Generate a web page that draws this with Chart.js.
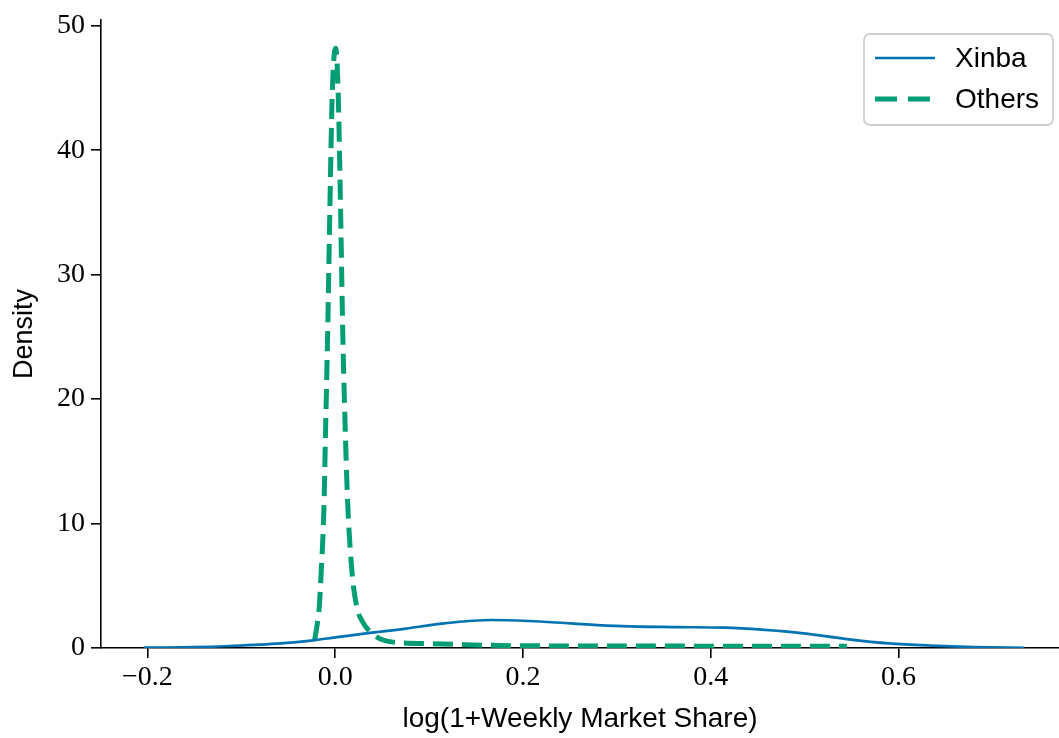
<!DOCTYPE html>
<html>
<head>
<meta charset="utf-8">
<script src="https://cdn.jsdelivr.net/npm/chart.js@4.4.1/dist/chart.umd.min.js"></script>
<style>
  html, body { margin: 0; padding: 0; background: #ffffff; }
  #wrap { width: 1059px; height: 738px; }
</style>
</head>
<body>
<div id="wrap"><canvas id="c" width="1059" height="738"></canvas></div>
<script>
// ---- data ----
const seriesNames = ["Xinba", "Others"];

const xinbaX = [-0.204, -0.15, -0.112, -0.058, -0.023, 0.0, 0.039, 0.07, 0.116, 0.167, 0.206, 0.251, 0.305, 0.364, 0.414, 0.454, 0.499, 0.545, 0.59, 0.635, 0.68, 0.734];
const xinbaY = [0.03, 0.07, 0.16, 0.37, 0.62, 0.85, 1.23, 1.5, 1.98, 2.25, 2.17, 1.98, 1.76, 1.68, 1.63, 1.47, 1.18, 0.72, 0.37, 0.19, 0.08, 0.02];

const othersX = [-0.022, -0.019, -0.017, -0.015, -0.012, -0.0105, -0.008, -0.006, -0.0046, -0.003, 0.0005, 0.003, 0.0046, 0.006, 0.008, 0.011, 0.0135, 0.018, 0.023, 0.030, 0.039, 0.051, 0.069, 0.1, 0.125, 0.16, 0.2, 0.3, 0.4, 0.5, 0.545];
const othersY = [0.6, 2.0, 3.3, 6.0, 11.3, 16.7, 25.5, 34.0, 39.7, 45.0, 48.2, 45.0, 39.7, 34.0, 25.5, 16.7, 11.3, 6.0, 3.3, 2.0, 1.18, 0.64, 0.42, 0.35, 0.30, 0.22, 0.18, 0.16, 0.15, 0.15, 0.15];

const xTicks = [-0.2, 0.0, 0.2, 0.4, 0.6];
const yTicks = [0, 10, 20, 30, 40, 50];
const xLabel = "log(1+Weekly Market Share)";
const yLabel = "Density";

// ---- chart ----
const toPts = (xs, ys) => xs.map((x, i) => ({ x: x, y: ys[i] }));

const fmtX = v => {
  const s = Math.abs(v).toFixed(1);
  return (v < -1e-9 ? "\u2212" : "") + s;
};

const SANS = '"Liberation Sans", Arial, sans-serif';
const SERIF = '"Liberation Serif", "Times New Roman", serif';

const legendPlugin = {
  id: 'boxLegend',
  afterDatasetsDraw(chart) {
    const ctx = chart.ctx;
    const ca = chart.chartArea;
    const w = 189, h = 91;
    const x0 = ca.right - 6 - w, y0 = ca.top + 14;
    ctx.save();
    ctx.beginPath();
    if (ctx.roundRect) ctx.roundRect(x0, y0, w, h, 6); else ctx.rect(x0, y0, w, h);
    ctx.fillStyle = 'rgba(255,255,255,0.85)';
    ctx.fill();
    ctx.lineWidth = 1.8;
    ctx.strokeStyle = '#d0d0d0';
    ctx.stroke();
    chart.data.datasets.forEach((ds, i) => {
      const cy = y0 + 24 + i * 41;
      ctx.beginPath();
      ctx.setLineDash(ds.borderDash ? [22, 11] : []);
      ctx.lineDashOffset = 0;
      ctx.lineWidth = ds.borderWidth;
      ctx.strokeStyle = ds.borderColor;
      ctx.lineCap = 'butt';
      ctx.moveTo(x0 + 11, cy);
      ctx.lineTo(x0 + 71, cy);
      ctx.stroke();
      ctx.setLineDash([]);
      ctx.fillStyle = '#000';
      ctx.font = '28px ' + SANS;
      ctx.textBaseline = 'middle';
      ctx.textAlign = 'left';
      ctx.fillText(ds.label, x0 + 91, cy + 1);
    });
    ctx.restore();
  }
};

new Chart(document.getElementById('c'), {
  type: 'line',
  data: {
    datasets: [
      {
        label: seriesNames[0],
        data: toPts(xinbaX, xinbaY),
        borderColor: '#0173b2',
        backgroundColor: '#0173b2',
        borderWidth: 2.7,
        pointRadius: 0,
        fill: false,
        cubicInterpolationMode: 'monotone'
      },
      {
        label: seriesNames[1],
        data: toPts(othersX, othersY),
        borderColor: '#029e73',
        backgroundColor: '#029e73',
        borderWidth: 5,
        borderDash: [20, 9],
        borderCapStyle: 'butt',
        pointRadius: 0,
        fill: false,
        cubicInterpolationMode: 'monotone'
      }
    ]
  },
  options: {
    responsive: false,
    animation: false,
    devicePixelRatio: 1,
    layout: { padding: { top: 19, right: 0, left: 0, bottom: 0 } },
    plugins: {
      legend: { display: false },
      tooltip: { enabled: false },
      title: { display: false }
    },
    scales: {
      x: {
        type: 'linear',
        min: -0.2495,
        max: 0.771,
        afterFit(scale) { scale.height = 90; },
        afterBuildTicks(scale) { scale.ticks = xTicks.map(v => ({ value: v })); },
        grid: { drawOnChartArea: false, drawTicks: true, tickLength: 10, color: '#000', lineWidth: 1.6 },
        border: { display: true, color: '#000', width: 1.6 },
        ticks: {
          color: '#000',
          font: { family: SERIF, size: 28 },
          padding: 3,
          maxRotation: 0,
          autoSkip: false,
          callback: v => fmtX(v)
        },
        title: {
          display: true,
          text: xLabel,
          color: '#000',
          font: { family: SANS, size: 28 },
          padding: { top: 0, bottom: 2 }
        }
      },
      y: {
        type: 'linear',
        min: 0,
        max: 50.46,
        afterFit(scale) { scale.width = 101; },
        afterBuildTicks(scale) { scale.ticks = yTicks.map(v => ({ value: v })); },
        grid: { drawOnChartArea: false, drawTicks: true, tickLength: 10, color: '#000', lineWidth: 1.6 },
        border: { display: true, color: '#000', width: 1.6 },
        ticks: {
          color: '#000',
          font: { family: SERIF, size: 28, lineHeight: 1.0 },
          padding: 6,
          autoSkip: false,
          callback: v => String(v)
        },
        title: {
          display: true,
          text: yLabel,
          color: '#000',
          font: { family: SANS, size: 27 },
          padding: { top: 8, bottom: 0 }
        }
      }
    }
  },
  plugins: [legendPlugin]
});
</script>
</body>
</html>
